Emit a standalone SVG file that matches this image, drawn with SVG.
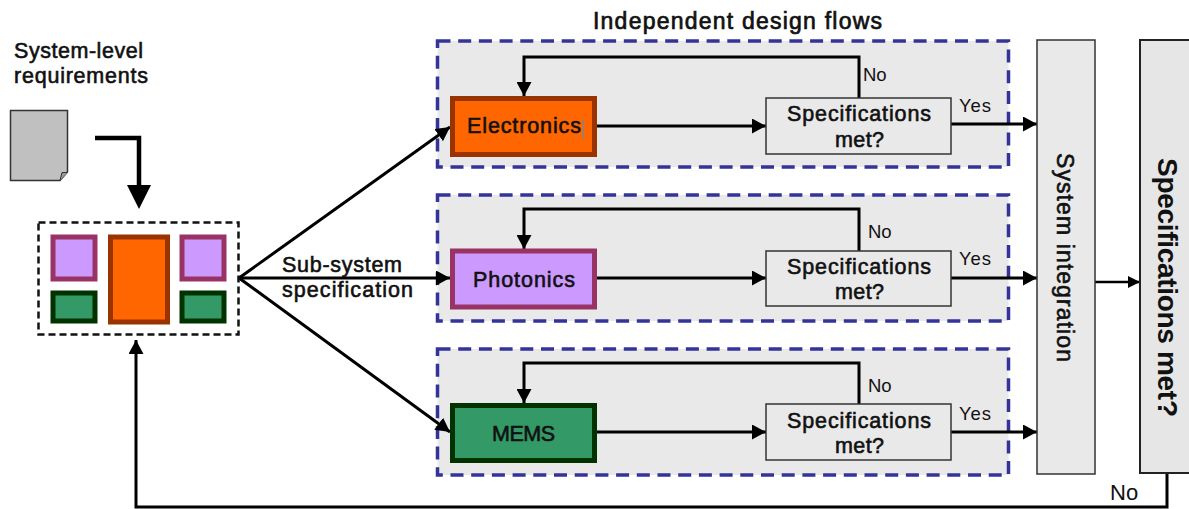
<svg xmlns="http://www.w3.org/2000/svg" width="1189" height="509" viewBox="0 0 1189 509">
<style>
text{font-family:"Liberation Sans",Arial,sans-serif;fill:#111;font-size:19px}
.b{font-size:21.500px;stroke:#111;stroke-width:.6}
.m{text-anchor:middle}
.l{font-size:18.500px}
.group{fill:#e9e9e9;stroke:#333399;stroke-width:3.5;stroke-dasharray:13 7.700}
.spec{fill:#e9e9e9;stroke:#333;stroke-width:1.500}
.or{fill:#ff6600;stroke:#993300;stroke-width:5}
.pu{fill:#cc99ff;stroke:#993366;stroke-width:5}
.gr{fill:#339966;stroke:#003300;stroke-width:5}
.c{fill:none;stroke:#000;stroke-width:3}
.thin{fill:none;stroke:#000;stroke-width:2.500}
</style>
<defs>
<marker id="a" markerUnits="userSpaceOnUse" markerWidth="15" markerHeight="15" refX="14" refY="7.500" orient="auto"><path d="M0 0L14 7.500L0 15z" fill="#000"/></marker>
<marker id="s" markerUnits="userSpaceOnUse" markerWidth="12" markerHeight="12" refX="12" refY="6" orient="auto"><path d="M0 0L12 6L0 12z" fill="#000"/></marker>
</defs>
<rect width="1189" height="509" fill="#fff"/>
<g id="group-electronics"><rect class="group" x="437.500" y="41" width="571" height="126"/></g>
<g id="group-photonics"><rect class="group" x="437.500" y="195" width="571" height="126"/></g>
<g id="group-mems"><rect class="group" x="437.500" y="349" width="571" height="126"/></g>
<g id="connectors">
<path d="M95 138H139V190" fill="none" stroke="#000" stroke-width="4.500"/>
<path d="M127 185H151L139 209z" fill="#000"/>
<path class="c" d="M239 278L450 127" marker-end="url(#a)"/>
<path class="c" d="M239 278H450" marker-end="url(#a)"/>
<path class="c" d="M239 278L450 432" marker-end="url(#a)"/>
<path class="c" d="M597 126H766" marker-end="url(#a)"/>
<path class="c" d="M597 278H766" marker-end="url(#a)"/>
<path class="c" d="M597 432H766" marker-end="url(#a)"/>
<path class="c" d="M859 98V57H524V96" marker-end="url(#a)"/>
<path class="c" d="M859 251V209H524V249" marker-end="url(#a)"/>
<path class="c" d="M859 404V363H524V403" marker-end="url(#a)"/>
<path class="c" d="M951 124H1037" marker-end="url(#a)"/>
<path class="c" d="M951 278H1037" marker-end="url(#a)"/>
<path class="c" d="M951 432H1037" marker-end="url(#a)"/>
<path class="thin" d="M1095 282H1140" marker-end="url(#s)"/>
<path class="c" d="M1167 474V507H136V340" marker-end="url(#a)"/>
</g>
<g id="requirements-doc">
<path d="M10.500 110.500H67.500V172L60 180.500H10.500z" fill="#c0c0c0" stroke="#333" stroke-width="1.500"/>
<path d="M60 180.500L62 172.500H67.500" fill="#999" stroke="#333" stroke-width="1"/>
<text x="14" y="58" class="b" textLength="129">System-level</text>
<text x="14" y="83" class="b" textLength="134">requirements</text>
</g>
<g id="system-block">
<rect x="38.500" y="222.500" width="200" height="112" fill="#fff" stroke="#111" stroke-width="2.500" stroke-dasharray="7 4"/>
<rect class="pu" x="53" y="237" width="42" height="42"/>
<rect class="or" x="110.500" y="237" width="57" height="85"/>
<rect class="pu" x="182" y="237" width="42" height="42"/>
<rect class="gr" x="53" y="293" width="42" height="28"/>
<rect class="gr" x="182" y="293" width="42" height="28"/>
</g>
<text x="282" y="272" class="b" textLength="120">Sub-system</text>
<text x="282" y="297" class="b" textLength="131">specification</text>
<text x="593" y="29" class="b" style="font-size:23px;stroke-width:.7" textLength="289">Independent design flows</text>
<g id="electronics"><rect class="or" x="452.500" y="98.500" width="142" height="56"/><text x="467" y="133" class="b" textLength="114">Electronics</text><path d="M583 119V139" stroke="#5b8db8" stroke-width="1"/></g>
<g id="photonics"><rect class="pu" x="452.500" y="251" width="142" height="56"/><text x="473" y="287" class="b" textLength="102">Photonics</text></g>
<g id="mems"><rect class="gr" x="452.500" y="405.500" width="142" height="55"/><text x="492" y="441" class="b" textLength="63">MEMS</text></g>
<g id="spec-electronics"><rect class="spec" x="766" y="98" width="185" height="56"/><text x="787" y="121" class="b" textLength="144">Specifications</text><text x="835" y="147" class="b" textLength="49">met?</text></g>
<g id="spec-photonics"><rect class="spec" x="766" y="251" width="185" height="55"/><text x="787" y="274" class="b" textLength="144">Specifications</text><text x="835" y="299" class="b" textLength="49">met?</text></g>
<g id="spec-mems"><rect class="spec" x="766" y="404" width="185" height="56"/><text x="787" y="428" class="b" textLength="144">Specifications</text><text x="835" y="453" class="b" textLength="49">met?</text></g>
<text x="863" y="81" class="l">No</text>
<text x="868" y="238" class="l">No</text>
<text x="868" y="392" class="l">No</text>
<text x="959" y="112" class="l" textLength="32">Yes</text>
<text x="959" y="265" class="l" textLength="32">Yes</text>
<text x="959" y="420" class="l" textLength="32">Yes</text>
<g id="system-integration"><rect class="spec" x="1037" y="40" width="58" height="434"/><text transform="translate(1057 153) rotate(90)" class="b" style="font-size:23px" textLength="209">System integration</text></g>
<g id="spec-system"><rect x="1140" y="40" width="60" height="433" fill="#e6e6e6" stroke="#222" stroke-width="2"/><text transform="translate(1158 158) rotate(90)" style="font-size:28px;font-weight:bold" textLength="259">Specifications met?</text></g>
<text x="1110" y="500" style="font-size:22px">No</text>
</svg>
